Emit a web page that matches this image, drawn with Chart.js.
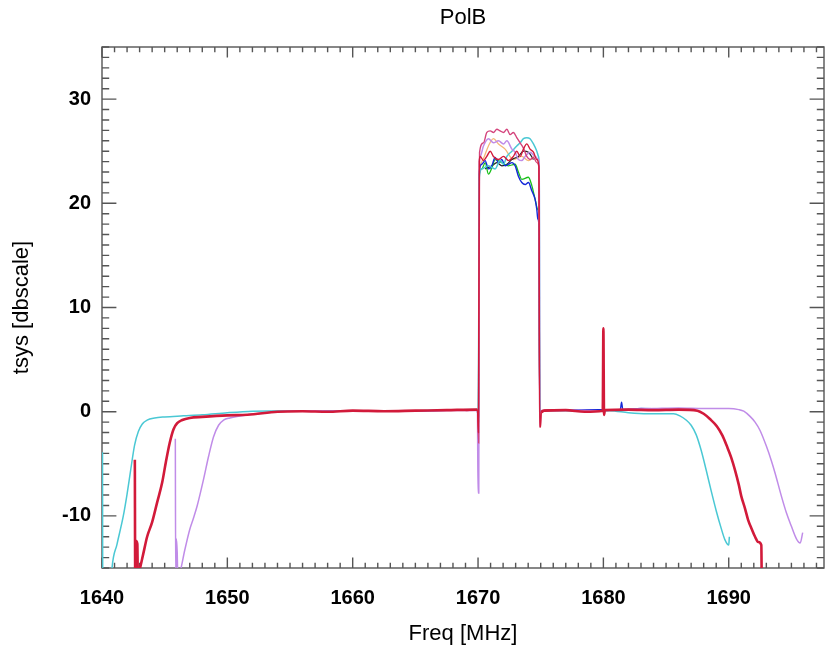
<!DOCTYPE html>
<html><head><meta charset="utf-8">
<script src="https://cdn.jsdelivr.net/npm/chart.js@4.4.0/dist/chart.umd.min.js"></script>
<style>html,body{margin:0;padding:0;background:#fff;} canvas{display:block;}</style>
</head><body>
<canvas id="c" width="826" height="647"></canvas>
<script>
const X_TICKS = [1640, 1650, 1660, 1670, 1680, 1690];
const Y_TICKS = [-10, 0, 10, 20, 30];
const X_MIN = 1640, X_MAX = 1697.6, Y_MIN = -15, Y_MAX = 35;

// [freq MHz, tsys]
const CYAN = [[1640.04,-3.9],[1640.06,-17],[1640.7,-17],[1640.8,-15],[1641.2,-12.7],[1641.7,-10],[1642.0,-7.9],[1642.3,-5.5],[1642.6,-3.2],[1642.9,-1.9],[1643.2,-1.2],[1643.6,-0.8],[1644.2,-0.6],[1645.0,-0.5],[1646.5,-0.4],[1648.0,-0.3],[1650.0,-0.1],[1652.0,0.05],[1655.0,0.1],[1658.0,0.05],[1661.0,0.1],[1664.0,0.05],[1667.0,0.15],[1669.95,0.2],[1670.02,-1.0],[1670.1,22.5],[1670.3,23.3],[1670.83,23.6],[1671.36,23.3],[1671.76,24.1],[1672.03,23.75],[1672.3,24.5],[1672.7,25.0],[1673.09,25.5],[1673.36,25.8],[1673.62,26.2],[1673.89,26.3],[1674.15,26.2],[1674.42,25.7],[1674.69,25.0],[1674.82,24.5],[1674.88,23.5],[1674.93,0.0],[1675.2,0.1],[1677.0,0.1],[1679.0,0.05],[1680.5,0.1],[1682.0,-0.1],[1683.5,-0.2],[1685.0,-0.2],[1685.6,-0.2],[1686.1,-0.4],[1686.6,-0.8],[1687.0,-1.3],[1687.4,-2.2],[1687.8,-3.7],[1688.2,-5.6],[1688.6,-7.6],[1689.0,-9.5],[1689.4,-11.2],[1689.7,-12.3],[1690.0,-12.8],[1690.05,-12.0]];

const RED = [[1642.62,-4.6],[1642.65,-16],[1642.69,-12.4],[1642.82,-12.7],[1642.86,-16],[1643.0,-15.2],[1643.3,-13.6],[1643.6,-12.0],[1644.0,-10.6],[1644.4,-8.7],[1644.8,-6.8],[1645.1,-4.8],[1645.4,-3.0],[1645.7,-1.7],[1646.0,-1.1],[1646.4,-0.8],[1647.0,-0.6],[1648.0,-0.5],[1650.0,-0.35],[1651.6,-0.3],[1654.0,0.0],[1656.0,0.05],[1658.0,0.0],[1660.0,0.1],[1662.5,0.05],[1665.0,0.1],[1667.5,0.15],[1669.95,0.2],[1670.03,-2.0],[1670.1,24.0],[1670.17,24.5],[1670.43,24.1],[1670.7,24.5],[1670.97,25.0],[1671.23,24.5],[1671.63,24.2],[1672.03,24.5],[1672.43,24.1],[1672.82,24.5],[1673.09,25.0],[1673.36,24.5],[1673.62,25.2],[1673.89,25.7],[1674.15,25.2],[1674.42,24.9],[1674.69,24.2],[1674.86,23.5],[1674.92,-1.5],[1674.98,-1.4],[1675.05,-0.1],[1675.3,0.1],[1677.0,0.15],[1678.5,0.0],[1679.95,0.1],[1680.0,8.0],[1680.05,-0.3],[1680.12,0.15],[1682.0,0.2],[1684.0,0.15],[1686.0,0.2],[1687.5,0.1],[1688.0,-0.2],[1688.5,-0.7],[1689.05,-1.4],[1689.5,-2.3],[1689.85,-3.3],[1690.2,-4.4],[1690.5,-5.6],[1690.8,-7.0],[1691.0,-8.1],[1691.3,-9.3],[1691.55,-10.4],[1691.85,-11.3],[1692.1,-12.0],[1692.35,-12.5],[1692.6,-12.8],[1692.63,-16]];

const VIOLET = [[1645.85,-2.6],[1645.88,-16],[1645.93,-12.2],[1646.0,-13.5],[1646.05,-16],[1646.25,-15.3],[1646.6,-13.3],[1647.0,-11.3],[1647.3,-10.2],[1647.6,-9.0],[1648.1,-6.5],[1648.5,-4.3],[1648.9,-2.4],[1649.3,-1.3],[1649.7,-0.8],[1650.2,-0.6],[1651.6,-0.3],[1654.0,0.0],[1657.0,0.1],[1660.0,0.05],[1663.0,0.1],[1666.0,0.1],[1669.95,0.15],[1670.0,-7.8],[1670.06,-7.8],[1670.1,24.0],[1670.17,24.5],[1670.43,25.5],[1670.83,26.2],[1671.23,25.8],[1671.63,26.0],[1672.03,25.7],[1672.3,26.0],[1672.7,25.2],[1672.96,24.9],[1673.22,24.2],[1673.49,24.1],[1673.76,24.5],[1674.15,24.9],[1674.55,24.5],[1674.82,24.2],[1674.88,23.5],[1674.93,0.0],[1675.5,0.1],[1678.0,0.15],[1680.0,0.1],[1682.0,0.25],[1684.0,0.3],[1686.0,0.35],[1688.0,0.3],[1690.0,0.3],[1690.8,0.2],[1691.2,0.05],[1691.7,-0.45],[1692.1,-1.0],[1692.5,-1.8],[1693.0,-3.3],[1693.4,-4.7],[1693.7,-5.9],[1694.2,-8.1],[1694.6,-9.7],[1695.0,-11.0],[1695.4,-12.2],[1695.7,-12.6],[1695.9,-11.6]];

const BLUE = [[1656.0,0.05],[1660.0,0.1],[1664.0,0.05],[1668.0,0.15],[1669.95,0.2],[1670.04,-0.5],[1670.1,23.0],[1670.3,23.75],[1670.57,24.1],[1670.83,23.3],[1671.1,23.6],[1671.36,24.4],[1671.63,23.9],[1671.9,24.2],[1672.16,23.6],[1672.43,23.75],[1672.7,23.9],[1672.96,23.6],[1673.22,22.6],[1673.49,22.0],[1673.76,21.8],[1674.02,22.0],[1674.29,21.2],[1674.55,20.4],[1674.69,19.4],[1674.77,18.5],[1674.85,18.0],[1674.92,0.0],[1675.2,0.1],[1677.0,0.15],[1679.0,0.2],[1681.35,0.2],[1681.45,0.9],[1681.55,0.2],[1683.0,0.3],[1685.0,0.25],[1687.0,0.2]];

const GREEN = [[1669.95,0.1],[1670.04,-1.0],[1670.1,22.8],[1670.3,23.3],[1670.57,23.9],[1670.83,22.8],[1671.1,23.4],[1671.36,24.2],[1671.9,23.9],[1672.43,23.6],[1672.96,23.75],[1673.22,23.0],[1673.49,22.3],[1674.02,22.5],[1674.29,21.7],[1674.55,20.4],[1674.77,19.4],[1674.86,19.0],[1674.92,0.1],[1675.3,0.1]];

const MAGENTA = [[1669.0,0.1],[1669.95,0.2],[1670.05,-3.0],[1670.12,24.9],[1670.43,25.8],[1670.7,26.8],[1670.97,26.95],[1671.23,26.8],[1671.5,27.1],[1671.76,26.95],[1672.03,26.8],[1672.3,27.1],[1672.56,26.6],[1672.82,26.8],[1673.09,26.3],[1673.36,25.8],[1673.62,25.3],[1673.89,24.5],[1674.15,24.2],[1674.42,24.4],[1674.69,23.9],[1674.84,23.6],[1674.9,-1.4],[1674.97,-1.3],[1675.03,0.1],[1676.0,0.2]];

const ORANGE = [[1670.1,23.5],[1670.5,24.5],[1670.83,25.5],[1671.23,26.2],[1671.63,25.7],[1672.16,25.2],[1672.82,24.2],[1673.49,24.5],[1674.02,24.1],[1674.55,24.5],[1674.8,24.0]];

const BLACK = [[1670.57,23.3],[1671.1,23.6],[1671.5,23.9],[1671.9,23.6],[1672.3,23.75],[1672.7,24.2],[1673.22,24.5],[1673.62,25.0],[1674.02,24.9],[1674.42,24.2]];

const toPts = a => a.map(p => ({x: p[0], y: p[1]}));
const FONT = 'Liberation Sans, Helvetica, Arial, sans-serif';

function ds(label, data, color, width) {
  return { label, data: toPts(data), borderColor: color, backgroundColor: color,
    borderWidth: width, pointRadius: 0, fill: false, cubicInterpolationMode: 'monotone' };
}

const redSet = ds('red', RED, '#d21a3a', 2.6);
redSet.segment = { borderWidth: c => (c.p0.parsed.x > 1669.9 && c.p1.parsed.x < 1675.2) ? 1.4 : 2.6 };

const axisFrame = {
  id: 'axisFrame',
  beforeDatasetsDraw(chart) {
    const { ctx, chartArea: a, scales: { x, y } } = chart;
    ctx.save();
    ctx.strokeStyle = '#555';
    ctx.lineWidth = 1.4;
    ctx.strokeRect(a.left, a.top, a.right - a.left, a.bottom - a.top);
    ctx.beginPath();
    for (let v = Math.ceil(X_MIN); v <= X_MAX; v++) {
      const px = x.getPixelForValue(v);
      const len = X_TICKS.includes(v) ? 10.4 : 5.2;
      ctx.moveTo(px, a.bottom); ctx.lineTo(px, a.bottom - len);
      ctx.moveTo(px, a.top); ctx.lineTo(px, a.top + len);
    }
    for (let v = Y_MIN; v <= Y_MAX; v++) {
      const py = y.getPixelForValue(v);
      const len = Y_TICKS.includes(v) ? 14.4 : 7.2;
      ctx.moveTo(a.left, py); ctx.lineTo(a.left + len, py);
      ctx.moveTo(a.right, py); ctx.lineTo(a.right - len, py);
    }
    ctx.stroke();
    ctx.restore();
  }
};

new Chart(document.getElementById('c'), {
  type: 'line',
  data: {
    datasets: [
      redSet,
      ds('magenta', MAGENTA, '#d4447c', 1.4),
      ds('violet', VIOLET, '#c08ce8', 1.5),
      ds('cyan', CYAN, '#4ac8d4', 1.5),
      ds('blue', BLUE, '#1428d8', 1.4),
      ds('green', GREEN, '#18c018', 1.3),
      ds('black', BLACK, '#202020', 1.2),
      ds('orange', ORANGE, '#f4b878', 1.3)
    ]
  },
  options: {
    responsive: false,
    animation: false,
    devicePixelRatio: 1,
    layout: { padding: { left: 0, right: 2, top: 0, bottom: 0 } },
    plugins: {
      legend: { display: false },
      tooltip: { enabled: false },
      title: { display: true, text: 'PolB', fullSize: false, color: '#000',
        font: { family: FONT, size: 22, weight: 'normal' }, padding: { top: 5, bottom: 15.6 } }
    },
    scales: {
      x: {
        type: 'linear', min: X_MIN, max: X_MAX,
        grid: { display: false, drawTicks: false },
        border: { display: false },
        afterBuildTicks: s => { s.ticks = X_TICKS.map(v => ({ value: v })); },
        afterFit: s => { s.height = 79; },
        ticks: { color: '#000', padding: 18, maxRotation: 0, autoSkip: false,
          callback: v => String(v),
          font: { family: FONT, size: 20, weight: 'bold' } },
        title: { display: true, text: 'Freq [MHz]', color: '#000',
          font: { family: FONT, size: 22, weight: 'normal' }, padding: { top: 0, bottom: 0 } }
      },
      y: {
        type: 'linear', min: Y_MIN, max: Y_MAX,
        grid: { display: false, drawTicks: false },
        border: { display: false },
        afterBuildTicks: s => { s.ticks = Y_TICKS.map(v => ({ value: v })); },
        afterFit: s => { s.width = 102; },
        ticks: { color: '#000', padding: 11, callback: v => String(v),
          font: { family: FONT, size: 20, weight: 'bold' } },
        title: { display: true, text: 'tsys [dbscale]', color: '#000',
          font: { family: FONT, size: 22, weight: 'normal' }, padding: { top: 9, bottom: 0 } }
      }
    }
  },
  plugins: [axisFrame]
});
</script>
</body></html>
